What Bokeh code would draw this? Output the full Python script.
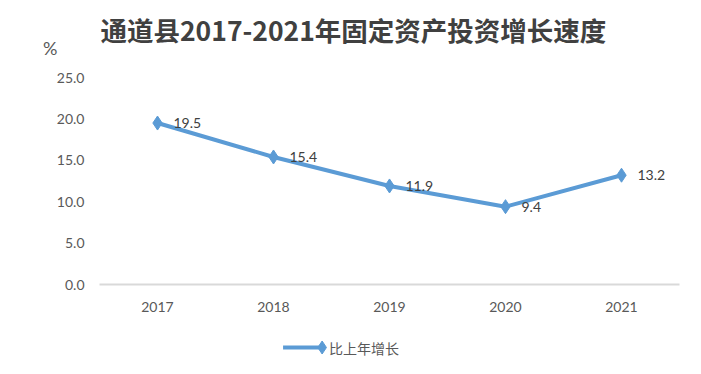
from bokeh.plotting import figure
from bokeh.layouts import column
from bokeh.models import FactorRange, Range1d, Label, NumeralTickFormatter, ColumnDataSource
from bokeh.core.properties import value
from bokeh.embed import file_html
from bokeh.resources import INLINE

years = ["2017", "2018", "2019", "2020", "2021"]
growth = [19.5, 15.4, 11.9, 9.4, 13.2]
labels = ["19.5", "15.4", "11.9", "9.4", "13.2"]
title_text = "通道县2017-2021年固定资产投资增长速度"
series_name = "比上年增长"
unit_text = "%"
y_ticks = [0, 5, 10, 15, 20, 25]

W = 693
LEFT = 99
lab_font = "Lato"
gray = "#595959"
blue = "#5b9bd5"

def blank_fig(h):
    # pixel-like coordinates: x from LEFT (frame edge) to W, y downwards
    f = figure(width=W, height=h, output_backend="svg", toolbar_location=None,
               x_range=Range1d(LEFT, W), y_range=Range1d(h, 0),
               min_border_left=LEFT, min_border_right=0,
               min_border_top=0, min_border_bottom=0)
    f.xaxis.visible = False
    f.grid.visible = False
    f.outline_line_color = None
    return f

# ---- top: title and unit ----
TOP = 64
p_top = blank_fig(TOP)
p_top.yaxis.ticker = [47]
p_top.yaxis.major_label_overrides = {47: unit_text}
p_top.yaxis.axis_line_color = None
p_top.yaxis.major_tick_line_color = None
p_top.yaxis.minor_tick_line_color = None
p_top.yaxis.major_label_text_font = lab_font
p_top.yaxis.major_label_text_font_size = "18px"
p_top.yaxis.major_label_text_color = gray
p_top.yaxis.major_label_standoff = 36
p_top.add_layout(Label(x=100, y=29, text=title_text, text_align="left", text_baseline="middle",
                       text_font="Noto Sans CJK SC", text_font_style="bold",
                       text_font_size="26.5px", text_color="#404040"))

# ---- main chart ----
src = ColumnDataSource(dict(x=years, y=growth, t=labels))
p = figure(width=W, height=256, output_backend="svg", toolbar_location=None,
           x_range=FactorRange(*years, range_padding=0), y_range=Range1d(0, 25),
           frame_width=580, frame_height=207,
           min_border_left=LEFT, min_border_top=77 - TOP, min_border_bottom=36, min_border_right=14)
p.outline_line_color = None
p.grid.visible = False

p.yaxis.ticker = y_ticks
p.yaxis.formatter = NumeralTickFormatter(format="0.0")
p.yaxis.axis_line_color = None
p.yaxis.major_tick_line_color = None
p.yaxis.minor_tick_line_color = None
p.yaxis.major_label_text_font = lab_font
p.yaxis.major_label_text_font_size = "14px"
p.yaxis.major_label_text_color = gray
p.yaxis.major_label_standoff = 9

p.xaxis.axis_line_color = "#d9d9d9"
p.xaxis.axis_line_width = 2
p.xaxis.major_tick_line_color = None
p.xaxis.minor_tick_line_color = None
p.xaxis.major_label_text_font = lab_font
p.xaxis.major_label_text_font_size = "14px"
p.xaxis.major_label_text_color = gray
p.xaxis.major_label_standoff = 11

p.line("x", "y", source=src, line_color=blue, line_width=4)
p.scatter("x", "y", source=src, marker="diamond", size=14, fill_color=blue, line_color=blue)
p.text("x", "y", text="t", source=src, x_offset=16, y_offset=0,
       text_align="left", text_baseline="middle", text_font=value(lab_font),
       text_font_size="14px", text_color="#404040")

# ---- bottom: legend key ----
BOT = 366 - TOP - 256
LEG_Y = 27
p_bot = blank_fig(BOT)
p_bot.yaxis.visible = False
p_bot.segment(x0=[287], y0=[LEG_Y], x1=[324], y1=[LEG_Y], line_color=blue, line_width=4)
p_bot.scatter(x=[327], y=[LEG_Y], marker="diamond", size=13, fill_color=blue, line_color=blue)
p_bot.text(x=[334], y=[LEG_Y], text=[series_name], text_align="left", text_baseline="middle",
           text_font=value("Noto Sans CJK SC"), text_font_size="14px", text_color=gray)

layout = column(p_top, p, p_bot, spacing=0)
open("out.html", "w").write(file_html(layout, INLINE))
